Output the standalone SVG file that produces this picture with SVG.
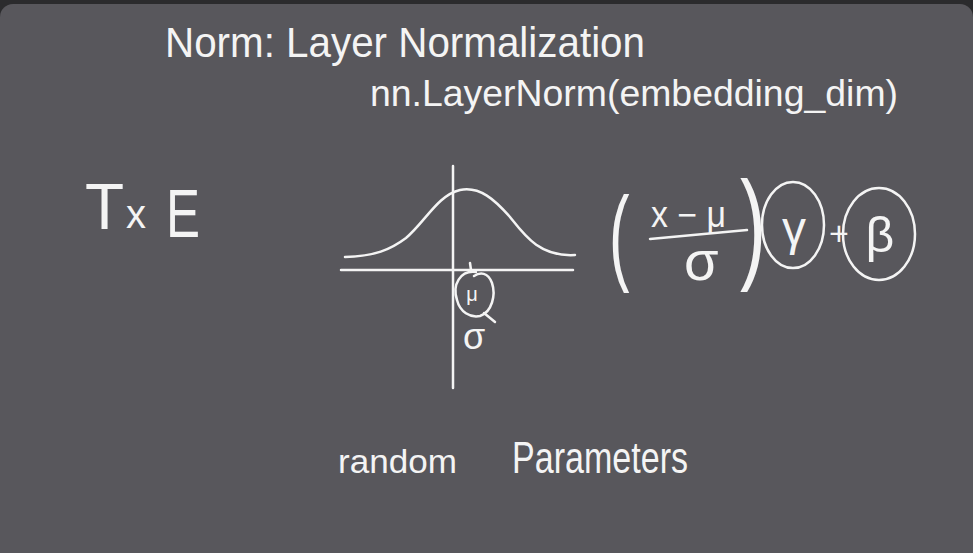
<svg xmlns="http://www.w3.org/2000/svg" width="973" height="553" viewBox="0 0 973 553">
<style>
.t{font-family:"Liberation Sans","DejaVu Sans",sans-serif;fill:#f4f4f4}
.s{fill:none;stroke:#f4f4f4;stroke-width:2.5;stroke-linecap:round;stroke-linejoin:round}
</style>
<rect x="0" y="0" width="973" height="553" fill="#2b2b2d"/>
<rect x="0" y="4" width="973" height="565" rx="13" fill="#58575c"/>
<g id="title">
<text class="t" x="165" y="57" font-size="42" textLength="480" lengthAdjust="spacingAndGlyphs">Norm: Layer Normalization</text>
</g>
<g id="code">
<text class="t" x="370" y="106" font-size="36" textLength="528" lengthAdjust="spacingAndGlyphs">nn.LayerNorm(embedding_dim)</text>
</g>
<g id="shape">
<text class="t" x="85" y="229" font-size="64">T</text>
<text class="t" x="126" y="228" font-size="40">x</text>
<text class="t" x="166" y="237" font-size="68" textLength="34" lengthAdjust="spacingAndGlyphs">E</text>
</g>
<g id="graph">
<line class="s" x1="341" y1="270" x2="573" y2="270"/>
<line class="s" x1="453" y1="166" x2="453" y2="388"/>
<path class="s" d="M345,257 C375,256 390,250 406,238 C425,222 438,195 460,190 C480,186 495,200 510,217 C525,236 540,257 575,255"/>
<line class="s" x1="470" y1="263" x2="471" y2="270"/>
<path class="s" d="M476,272 C460,270 452,285 457,300 C460,312 470,318 480,316 C492,312 496,295 492,283 C488,272 480,272 474,276"/>
<line class="s" x1="484" y1="313" x2="495" y2="322"/>
<text class="t" x="472" y="301" font-size="20" text-anchor="middle">μ</text>
<text class="t" x="474" y="349" font-size="36" text-anchor="middle">σ</text>
</g>
<g id="formula">
<g transform="translate(609,271) scale(1.1,1.9)"><text class="t" x="0" y="0" font-size="56">(</text></g>
<text class="t" x="651" y="227" font-size="36" textLength="75" lengthAdjust="spacingAndGlyphs">x − μ</text>
<line class="s" x1="650" y1="239" x2="747" y2="230"/>
<text class="t" x="684" y="280" font-size="56">σ</text>
<g transform="translate(740,267) scale(1.4,2.2)"><text class="t" x="0" y="0" font-size="56">)</text></g>
<ellipse class="s" cx="793" cy="225" rx="31" ry="43"/>
<text class="t" x="794" y="245" font-size="48" text-anchor="middle">γ</text>
<text class="t" x="839" y="245" font-size="34" text-anchor="middle">+</text>
<ellipse class="s" cx="879" cy="234" rx="36" ry="46"/>
<text class="t" x="880" y="252" font-size="50" text-anchor="middle">β</text>
</g>
<g id="note">
<text class="t" x="338" y="473" font-size="34" textLength="119" lengthAdjust="spacingAndGlyphs">random</text>
<text class="t" x="512" y="473" font-size="44" textLength="176" lengthAdjust="spacingAndGlyphs">Parameters</text>
</g>
</svg>
